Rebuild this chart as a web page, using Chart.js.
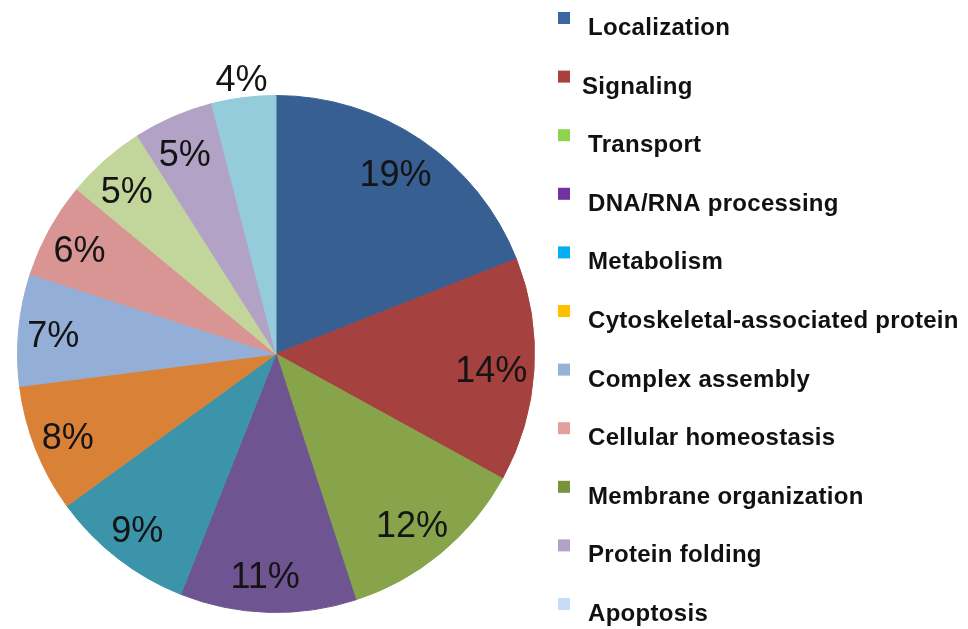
<!DOCTYPE html>
<html>
<head>
<meta charset="utf-8">
<script src="https://cdn.jsdelivr.net/npm/chart.js@4.4.1/dist/chart.umd.min.js"></script>
<style>
  html, body { margin: 0; padding: 0; background: #fff; }
  #wrap { width: 968px; height: 629px; }
</style>
</head>
<body>
<div id="wrap"><canvas id="myChart" width="968" height="629"></canvas></div>
<script>
// categories and values
var categories = ["Localization", "Signaling", "Transport", "DNA/RNA processing", "Metabolism",
  "Cytoskeletal-associated protein", "Complex assembly", "Cellular homeostasis",
  "Membrane organization", "Protein folding", "Apoptosis"];
var percents = [19, 14, 12, 11, 9, 8, 7, 6, 5, 5, 4];
var pctLabels = ["19%", "14%", "12%", "11%", "9%", "8%", "7%", "6%", "5%", "5%", "4%"];

// the slices and the legend swatches do not use the same colours in the figure
var sliceColors = ["#375F92", "#A5423F", "#87A44B", "#6E5490", "#3B94AA", "#DA8138",
  "#93AED7", "#D99593", "#C2D59B", "#B2A2C6", "#94CCDC"];
var legendColors = ["#3B66A2", "#A8413E", "#8ED44F", "#7232A2", "#00B0F0", "#FFC000",
  "#95B3D7", "#E39E9E", "#77933C", "#B3A2C7", "#C6DDF5"];

// percent labels at a fraction of the radius, the small last slice outside
var sliceLabels = {
  id: 'sliceLabels',
  afterDatasetsDraw: function(chart) {
    var ctx = chart.ctx;
    var meta = chart.getDatasetMeta(0);
    ctx.save();
    ctx.font = '36px "Liberation Sans", Arial, sans-serif';
    ctx.fillStyle = '#141414';
    ctx.textAlign = 'center';
    ctx.textBaseline = 'middle';
    meta.data.forEach(function(arc, i) {
      var p = arc.getProps(['x', 'y', 'startAngle', 'endAngle', 'outerRadius'], true);
      var mid = (p.startAngle + p.endAngle) / 2;
      var last = i == meta.data.length - 1;
      var f = last ? 1.065 : 0.85;
      // labels sit a little low and left in the original
      var x = p.x + Math.cos(mid) * p.outerRadius * f - (last ? 0 : 4);
      var y = p.y + Math.sin(mid) * p.outerRadius * f + (last ? 0 : 4);
      ctx.fillText(pctLabels[i], x, y);
    });
    ctx.restore();
  }
};

// legend on the right, drawn by hand because of the wide row spacing
var sideLegend = {
  id: 'sideLegend',
  afterDraw: function(chart) {
    var ctx = chart.ctx;
    ctx.save();
    ctx.font = 'bold 24px "Liberation Sans", Arial, sans-serif';
    ctx.letterSpacing = '0.3px';
    ctx.textBaseline = 'alphabetic';
    categories.forEach(function(name, i) {
      var top = 12 + i * 58.6;
      ctx.fillStyle = legendColors[i];
      ctx.fillRect(558, top, 12, 12);
      ctx.fillStyle = '#111';
      var tx = i == 1 ? 582 : 588;
      ctx.fillText(name, tx, top + 23);
    });
    ctx.restore();
  }
};

var ctx = document.getElementById("myChart");
var myPie = new Chart(ctx, {
  type: 'pie',
  data: {
    labels: categories,
    datasets: [{
      data: percents,
      backgroundColor: sliceColors,
      borderColor: sliceColors,
      borderWidth: 1
    }]
  },
  options: {
    responsive: false,
    animation: false,
    layout: { padding: { left: 17, right: 433, top: 95, bottom: 16 } },
    plugins: {
      legend: { display: false },
      tooltip: { enabled: false }
    }
  },
  plugins: [sliceLabels, sideLegend]
});
</script>
</body>
</html>
